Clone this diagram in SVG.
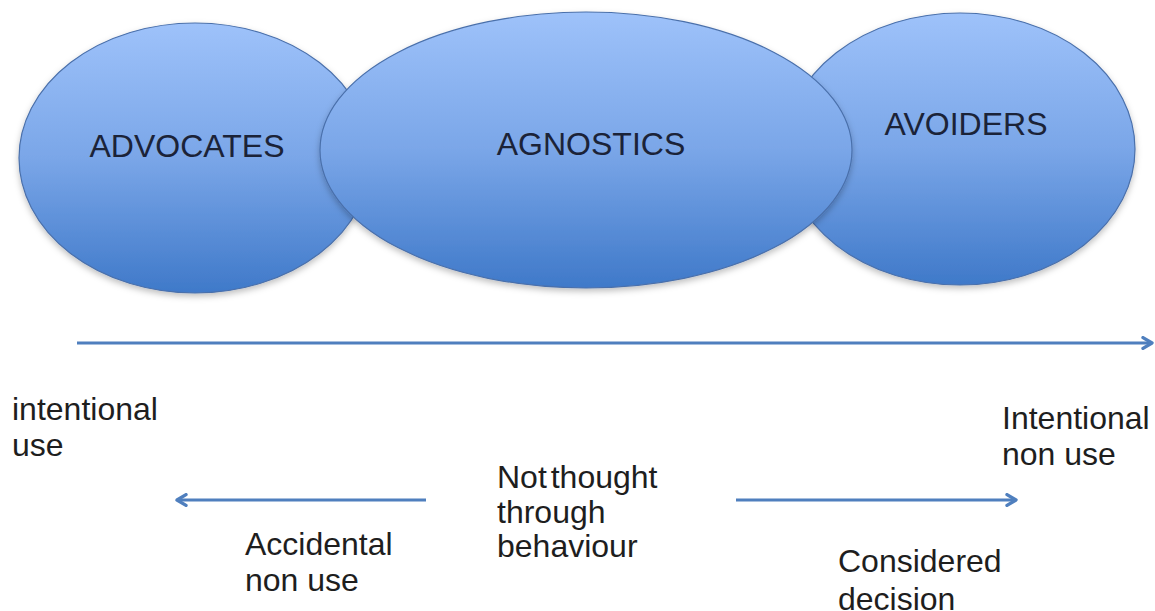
<svg xmlns="http://www.w3.org/2000/svg" width="1155" height="611" viewBox="0 0 1155 611">
  <style>
    .bubble { fill: url(#bubbleFill); stroke: #4a70ab; stroke-width: 1.2; filter: url(#softShadow); }
    .label { font-family: "Liberation Sans", Arial, sans-serif; font-size: 32px; fill: #1b2338; }
    .note { font-family: "Liberation Sans", Arial, sans-serif; font-size: 32px; fill: #1e1e1e; }
    .axis { stroke: #4f7fbe; stroke-width: 3.2; fill: none; }
  </style>
  <defs>
    <linearGradient id="bubbleFill" x1="0" y1="0" x2="0" y2="1">
      <stop offset="0" stop-color="#9ec2fa"/>
      <stop offset="0.5" stop-color="#7aa6e8"/>
      <stop offset="1" stop-color="#3f79c9"/>
    </linearGradient>
    <filter id="softShadow" x="-10%" y="-10%" width="120%" height="125%">
      <feDropShadow dx="0" dy="3" stdDeviation="3" flood-color="#000" flood-opacity="0.25"/>
    </filter>
    <marker id="arrowHead" viewBox="0 0 12 12" refX="10" refY="6" markerWidth="4.5" markerHeight="4.5" orient="auto-start-reverse" markerUnits="strokeWidth">
      <path d="M2.5,1.5 L10,6 L2.5,10.5" fill="none" stroke="#4f7fbe" stroke-width="2.8" stroke-linecap="round" stroke-linejoin="round"/>
    </marker>
  </defs>

  <rect width="1155" height="611" fill="#ffffff"/>

  <!-- groups along the continuum -->
  <g id="advocates">
    <ellipse class="bubble" cx="195" cy="158" rx="176" ry="135"/>
    <text class="label" x="187" y="157" text-anchor="middle">ADVOCATES</text>
  </g>
  <g id="avoiders">
    <ellipse class="bubble" cx="960" cy="149" rx="175" ry="136"/>
    <text class="label" x="966" y="135" text-anchor="middle">AVOIDERS</text>
  </g>
  <g id="agnostics">
    <ellipse class="bubble" cx="586" cy="150" rx="266" ry="138"/>
    <text class="label" x="591" y="155" text-anchor="middle">AGNOSTICS</text>
  </g>

  <!-- arrows -->
  <g id="connectors">
    <line class="axis" x1="77" y1="343" x2="1152" y2="343" marker-end="url(#arrowHead)"/>
    <line class="axis" x1="426" y1="500" x2="177" y2="500" marker-end="url(#arrowHead)"/>
    <line class="axis" x1="736" y1="500" x2="1016" y2="500" marker-end="url(#arrowHead)"/>
  </g>

  <!-- captions -->
  <g id="intentional-use">
    <text class="note" x="12" y="420">intentional</text>
    <text class="note" x="12" y="456">use</text>
  </g>
  <g id="not-thought-through">
    <text class="note" x="497" y="488" word-spacing="-5">Not thought</text>
    <text class="note" x="497" y="523">through</text>
    <text class="note" x="497" y="557">behaviour</text>
  </g>
  <g id="accidental-non-use">
    <text class="note" x="245" y="555">Accidental</text>
    <text class="note" x="245" y="591">non use</text>
  </g>
  <g id="intentional-non-use">
    <text class="note" x="1002" y="429">Intentional</text>
    <text class="note" x="1002" y="465">non use</text>
  </g>
  <g id="considered-decision">
    <text class="note" x="838" y="572">Considered</text>
    <text class="note" x="838" y="610">decision</text>
  </g>
</svg>
